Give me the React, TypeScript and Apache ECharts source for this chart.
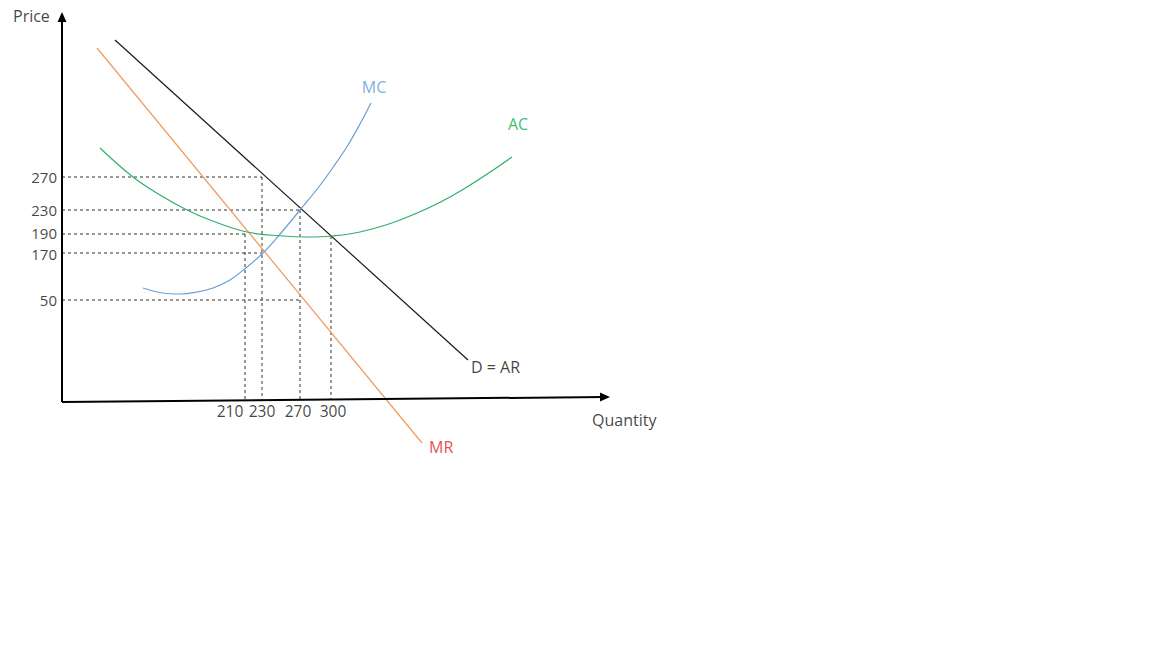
import React, { useEffect, useRef } from "react";
import * as echarts from "echarts";

// Diagram units: origin where the two axes meet, not drawn to scale.
const priceTicks = ["270", "230", "190", "170", "50"];
const priceTickY = [225, 192, 168, 149, 102];
const priceLabelY = [225, 192, 169, 148, 102];
const priceGuideEndX = [200, 238, 185, 200, 238];

const quantityTicks = ["210", "230", "270", "300"];
const quantityTickX = [183, 200, 238, 269];
const quantityGuideTopY = [168, 225, 192, 166];
const quantityLabelX = [168, 200, 236, 271];

const demandLine = [[53, 362], [406, 42]];
const mrLine = [[35, 354], [360, -41]];
const mcCurve = [
  [81, 114], [101, 109], [118, 108], [135, 110], [151, 114], [168, 122], [185, 135],
  [201, 149], [219, 169], [238, 192], [256, 214], [272, 236], [286, 257], [298, 278], [309, 299],
];
const acCurve = [
  [38, 254], [71, 225], [98, 207], [125, 192], [148, 182], [185, 170], [221, 166],
  [245, 165], [270, 166], [298, 170], [338, 182], [388, 205], [450, 245],
];

const xAxisEnd = [543, 5];
const yAxisEnd = [0, 385];

const FONT = "Open Sans";

export default function App() {
  const ref = useRef<HTMLDivElement>(null);
  useEffect(() => {
    if (!ref.current) return;
    const chart = echarts.init(ref.current, null, { renderer: "svg" });
    const axisTilt = xAxisEnd[1] / xAxisEnd[0];

    const guideSeries: any[] = [];
    priceTickY.forEach((y, i) => {
      guideSeries.push({
        type: "line",
        data: [[0, y], [priceGuideEndX[i], y]],
        symbol: "none",
        lineStyle: { color: "#333", width: 1, type: [3, 3] },
        silent: true,
        z: 1,
      });
    });
    quantityTickX.forEach((x, i) => {
      guideSeries.push({
        type: "line",
        data: [[x, quantityGuideTopY[i]], [x, x * axisTilt]],
        symbol: "none",
        lineStyle: { color: "#333", width: 1, type: [3, 3] },
        silent: true,
        z: 1,
      });
    });

    const labelPoint = (
      x: number,
      y: number,
      text: string,
      align: string,
      color = "#111",
      size = 16
    ) => ({
      value: [x, y],
      name: text,
      label: {
        show: true,
        position: "inside",
        formatter: text,
        align,
        verticalAlign: "middle",
        fontFamily: FONT,
        fontSize: size,
        lineHeight: size,
        color,
      },
    });

    const labels = [
      labelPoint(-49, 386, "Price", "left"),
      ...priceTicks.map((t, i) => labelPoint(-5, priceLabelY[i], t, "right", "#111", 15)),
      ...quantityTicks.map((t, i) => labelPoint(quantityLabelX[i], -9, t, "center", "#111", 15.5)),
      labelPoint(530, -18, "Quantity", "left"),
      labelPoint(312, 315, "MC", "center", "#5B9BD5"),
      labelPoint(456, 278, "AC", "center", "#00B050"),
      labelPoint(409, 35, "D = AR", "left"),
      labelPoint(367, -45, "MR", "left", "#E0201B"),
    ];

    chart.setOption({
      animation: false,
      grid: { left: 0, top: 0, right: 0, bottom: 0 },
      xAxis: { type: "value", min: -62, max: 1090, show: false },
      yAxis: { type: "value", min: -246, max: 402, show: false },
      series: [
        ...guideSeries,
        {
          type: "line",
          data: demandLine,
          symbol: "none",
          lineStyle: { color: "#1a1a1a", width: 1.2 },
          z: 3,
        },
        {
          type: "line",
          data: mrLine,
          symbol: "none",
          lineStyle: { color: "#F0995C", width: 1.2 },
          z: 3,
        },
        {
          type: "line",
          data: mcCurve,
          symbol: "none",
          smooth: 0.4,
          lineStyle: { color: "#6A9FD4", width: 1.2 },
          z: 3,
        },
        {
          type: "line",
          data: acCurve,
          symbol: "none",
          smooth: 0.4,
          lineStyle: { color: "#2DB06A", width: 1.2 },
          z: 3,
        },
        {
          type: "line",
          data: [],
          symbol: "none",
          markLine: {
            silent: true,
            symbol: ["none", "triangle"],
            symbolSize: [9, 10],
            label: { show: false },
            lineStyle: { color: "#000", width: 2, type: "solid" },
            data: [
              [{ coord: [0, 0] }, { coord: xAxisEnd }],
              [{ coord: [0, 0] }, { coord: yAxisEnd }],
            ],
          },
          z: 4,
        },
        {
          type: "scatter",
          data: labels,
          symbol: "circle",
          symbolSize: 1,
          itemStyle: { color: "rgba(0,0,0,0)" },
          silent: true,
          z: 5,
        },
      ],
    });
    return () => chart.dispose();
  }, []);
  return (
    <div
      ref={ref}
      style={{ position: "fixed", left: 0, top: 0, width: 1152, height: 648, background: "#fff" }}
    />
  );
}
